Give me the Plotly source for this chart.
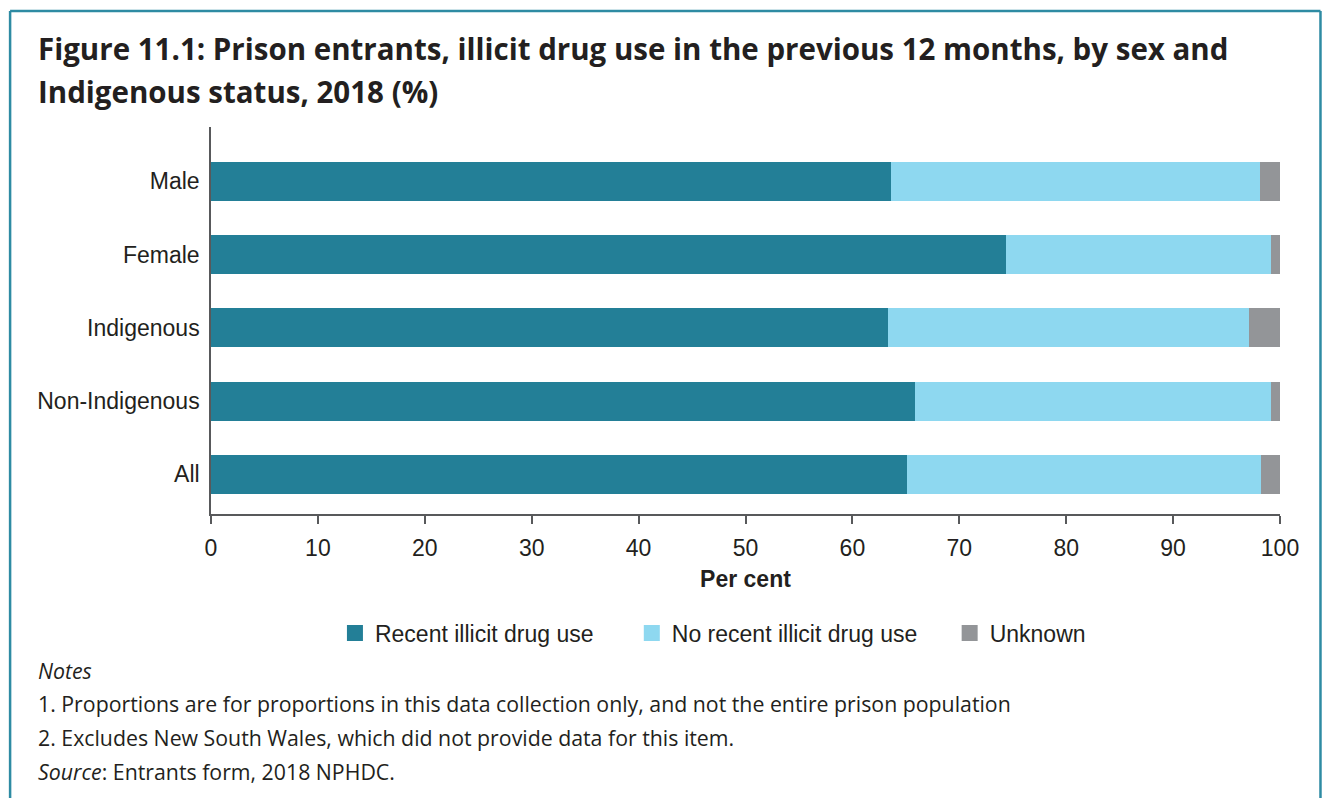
import plotly.graph_objects as go

# ---- data ----
categories = ["Male", "Female", "Indigenous", "Non-Indigenous", "All"]
recent = [63.6, 74.4, 63.3, 65.9, 65.1]
no_recent = [34.5, 24.8, 33.8, 33.3, 33.1]
unknown = [1.9, 0.8, 2.9, 0.8, 1.8]
series_names = ["Recent illicit drug use", "No recent illicit drug use", "Unknown"]
x_ticks = [0, 10, 20, 30, 40, 50, 60, 70, 80, 90, 100]

title_lines = [
    "Figure 11.1: Prison entrants, illicit drug use in the previous 12 months, by sex and",
    "Indigenous status, 2018 (%)",
]
note_lines = [
    "<i>Notes</i>",
    "1. Proportions are for proportions in this data collection only, and not the entire prison population",
    "2. Excludes New South Wales, which did not provide data for this item.",
    "<i>Source</i>: Entrants form, 2018 NPHDC.",
]

# ---- style ----
colors = ["#237f97", "#8ed8f0", "#939598"]
TEXT = "#231f20"
AXIS = "#58595b"
FRAME = "#2e8ba3"
FS = 23
W, H = 1322, 798
L, R, T, B = 211, 41.5, 127, 284
PW = W - L - R
PH = H - T - B


def px(x):
    return (x - L) / PW


def py(y):
    return (H - B - y) / PH


fig = go.Figure()
series = [recent, no_recent, unknown]
legends = ["legend", "legend2", "legend3"]
for name, vals, col, lg in zip(series_names, series, colors, legends):
    fig.add_trace(go.Bar(
        y=categories, x=vals, name=name, orientation="h",
        marker=dict(color=col, line=dict(width=0)),
        showlegend=False, legendgroup=name,
    ))
    fig.add_trace(go.Scatter(
        x=[None], y=[None], mode="markers", name=name, legendgroup=name,
        marker=dict(symbol="square", size=16, color=col, line=dict(width=0)),
        legend=lg, showlegend=True,
    ))

legend_font = dict(family="Arial, Liberation Sans, sans-serif", size=FS, color=TEXT)
legend_x = [335, 632, 950]
leg_common = dict(orientation="h", xanchor="left", yanchor="middle", font=legend_font,
                  bgcolor="rgba(0,0,0,0)", borderwidth=0, itemwidth=30)
fig.update_layout(
    legend=dict(x=px(legend_x[0]), y=py(633), **leg_common),
    legend2=dict(x=px(legend_x[1]), y=py(633), **leg_common),
    legend3=dict(x=px(legend_x[2]), y=py(633), **leg_common),
)

annotations = []
title_y = [48, 91]
for line, yy in zip(title_lines, title_y):
    annotations.append(dict(
        text=line, x=px(36), y=py(yy), xref="paper", yref="paper",
        xanchor="left", yanchor="middle", showarrow=False,
        font=dict(family="Open Sans", size=29.5, color=TEXT, weight=700),
    ))
note_y = [670, 703, 737, 771]
for line, yy in zip(note_lines, note_y):
    annotations.append(dict(
        text=line, x=px(36), y=py(yy), xref="paper", yref="paper",
        xanchor="left", yanchor="middle", showarrow=False,
        font=dict(family="Open Sans", size=21.3, color=TEXT),
    ))

shapes = [
    dict(type="line", xref="paper", yref="paper", x0=px(10), x1=px(10), y0=py(11), y1=py(810),
         line=dict(color=FRAME, width=2.5)),
    dict(type="line", xref="paper", yref="paper", x0=px(10), x1=px(1321), y0=py(11), y1=py(11),
         line=dict(color=FRAME, width=2.5)),
    dict(type="line", xref="paper", yref="paper", x0=px(1321), x1=px(1321), y0=py(11), y1=py(810),
         line=dict(color=FRAME, width=2.5)),
]

fig.update_layout(
    width=W, height=H,
    margin=dict(l=L, r=R, t=T, b=B, pad=0),
    barmode="stack", bargap=0.469,
    plot_bgcolor="white", paper_bgcolor="white",
    font=dict(family="Arial, Liberation Sans, sans-serif", size=FS, color=TEXT),
    annotations=annotations, shapes=shapes,
    xaxis=dict(
        range=[0, 100], tickvals=x_ticks, ticktext=[str(v) for v in x_ticks],
        showgrid=False, zeroline=False, showline=True, linecolor=AXIS, linewidth=1.5,
        ticks="outside", ticklen=8, tickwidth=1.5, tickcolor=AXIS,
        ticklabelstandoff=5,
        tickfont=dict(size=FS, color=TEXT),
        title=dict(text="<b>Per cent</b>", font=dict(size=FS, color=TEXT), standoff=11),
    ),
    yaxis=dict(
        type="category", categoryarray=categories, range=[4.54, -0.74],
        showgrid=False, zeroline=False, showline=True, linecolor=AXIS, linewidth=1.5,
        ticks="", ticklabelstandoff=5,
        tickfont=dict(size=FS, color=TEXT),
    ),
)

fig.write_html("out.html", config={"displayModeBar": False},
               post_script="document.body.style.margin='0';")
